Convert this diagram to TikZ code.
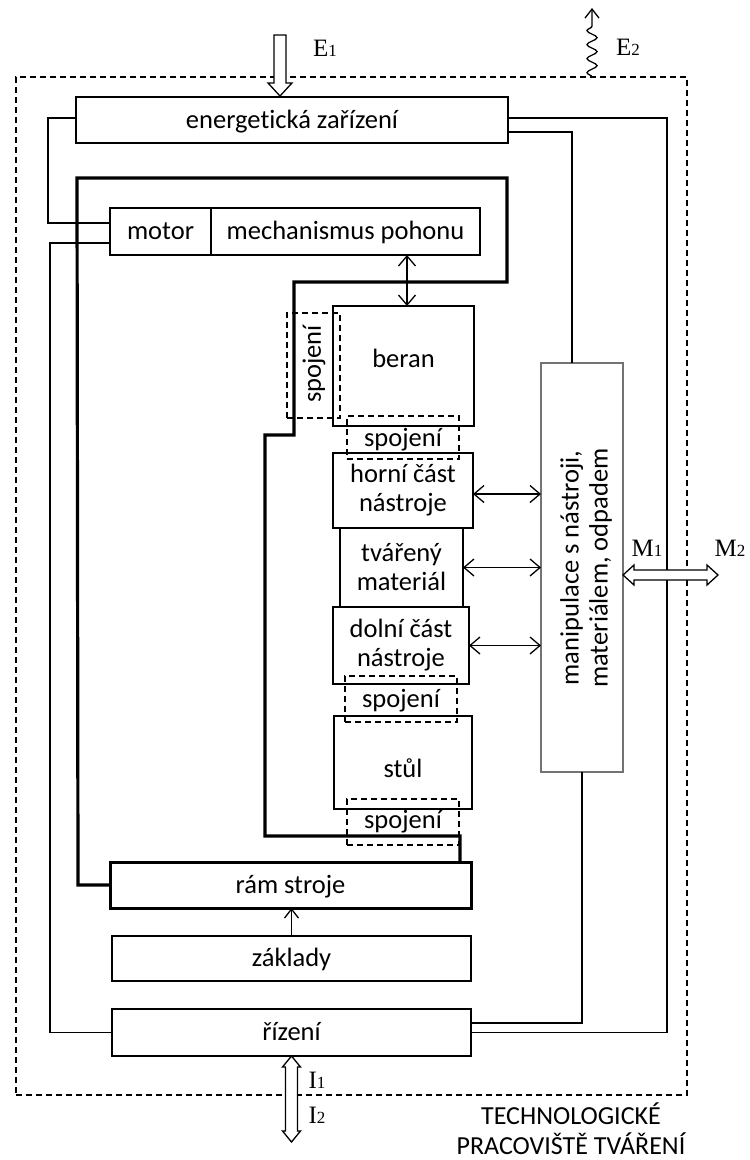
\documentclass[tikz,border=0pt]{standalone}
\usepackage{fontspec}
\setmainfont{Carlito}[Ligatures=NoCommon]
\newfontfamily\tnr{Liberation Serif}
\usetikzlibrary{arrows.meta,decorations.pathmorphing,calc}
\newcommand\mylbl[2]{{\tnr\fontsize{25}{25}\selectfont #1\fontsize{17}{17}\selectfont #2}}
\begin{document}
\begin{tikzpicture}[x=1pt,y=-1pt,
  txt/.style={font=\fontsize{26.5}{29}\selectfont, align=center, inner sep=0pt},
  one/.style={text height=18pt, text depth=2pt},
  box/.style={draw, line width=1.4pt, inner sep=0pt, outer sep=0pt, txt},
  thickbox/.style={box, line width=3pt},
  dbox/.style={draw, dashed, dash pattern=on 6pt off 4pt, line width=1.3pt, inner sep=0pt, outer sep=0pt},
  conn/.style={draw, line width=1.4pt},
  thickframe/.style={draw, line width=3.2pt, line join=miter},
  dbl/.style={draw, line width=1.3pt, {Straight Barb[length=10pt,width=17pt]}-{Straight Barb[length=10pt,width=17pt]}},
  sgl/.style={draw, line width=1.3pt, -{Straight Barb[length=9pt,width=14pt]}},
  hollow/.style={draw, line width=1.3pt, fill=white, line join=miter},
  lbl/.style={inner sep=0pt}
]
\useasboundingbox (0,0) rectangle (750,1160);

% outer dashed border
\node[dbox, line width=1.2pt, minimum width=671pt, minimum height=1018pt] (outer) at (351.5,586) {};

% boxes
\node[box, one, minimum width=432pt, minimum height=46pt] (en) at (292,120) {energetická zařízení};
\node[box, one, minimum width=101pt, minimum height=47pt] (motor) at (160.5,231.5) {motor};
\node[box, one, minimum width=269pt, minimum height=47pt] (mech) at (345.5,231.5) {mechanismus pohonu};
\node[box, minimum width=141pt, minimum height=120pt] (beran) at (403.5,366) {};
\node[txt, one] (berant) at (403.5,359) {beran};
\node[box, minimum width=140pt, minimum height=75pt] (horni) at (403,490.5) {horní část\\nástroje};
\node[box, minimum width=123pt, minimum height=79pt] (tvar) at (401.5,567.5) {tvářený\\materiál};
\node[box, minimum width=136pt, minimum height=77pt] (dolni) at (401,645.5) {dolní část\\nástroje};
\node[box, minimum width=138pt, minimum height=93pt] (stul) at (403,762.5) {};
\node[txt, one] (stult) at (403,769) {stůl};
\node[thickbox, one, minimum width=361pt, minimum height=46pt] (ram) at (290.5,885) {rám stroje};
\node[box, one, minimum width=359pt, minimum height=45pt] (zakl) at (291.5,958.5) {základy};
\node[box, one, minimum width=359pt, minimum height=47pt] (riz) at (291.5,1032.5) {řízení};
\node[box, draw=black!55, minimum width=82pt, minimum height=409pt] (manip) at (582,567.5) {};
\node[txt, rotate=90] (maniptext) at (586,568) {manipulace s nástroji,\\materiálem, odpadem};

% spojeni (dashed)
\node[dbox, minimum width=53pt, minimum height=105pt] (s1) at (313.5,365.5) {};
\node[txt, rotate=90] (s1t) at (314,364) {spojení};
\node[dbox, minimum width=112pt, minimum height=43pt] (s2) at (403,437.5) {};
\node[txt, one] (s2t) at (403,438) {spojení};
\node[dbox, minimum width=112pt, minimum height=46pt] (s3) at (401,699) {};
\node[txt, one] (s3t) at (401,699) {spojení};
\node[dbox, minimum width=112pt, minimum height=46pt] (s4) at (403,822) {};
\node[txt, one] (s4t) at (403,820) {spojení};

% thick machine frame
\coordinate (fe) at (460,836);
\draw[thickframe] (ram.west) -- (78,885) -- (77,178) -- (507,178) -- (507,282) -- (294,282)
  -- (294,435) -- (265,435) -- (265,836) -- (fe) -- (fe |- ram.north);

% connections
\draw[conn] ([yshift=2pt]en.west) -| (48,223) -- ([yshift=8.5pt]motor.west);
\draw[conn] ([yshift=-11.5pt]motor.west) -| (50,1032.5) -- (riz.west);
\draw[conn] ([yshift=2pt]en.east) -| (667,1032.5) -- (riz.east);
\draw[conn] ([yshift=-12pt]en.east) -| ([xshift=-10pt]manip.north);
\draw[conn] (manip.south) |- ([yshift=9.5pt]riz.east);

% arrows
\coordinate (ax) at (407,0);
\draw[dbl] (mech.south -| ax) -- (beran.north -| ax);
\draw[dbl] ([yshift=-3.5pt]horni.east) -- ([yshift=-3.5pt]horni.east -| manip.west);
\draw[dbl] (tvar.east) -- (tvar.east -| manip.west);
\draw[dbl] (dolni.east) -- (dolni.east -| manip.west);
\draw[sgl] (zakl.north) -- (zakl.north |- ram.south);

% E1 hollow arrow
\coordinate (e1) at (280,35);
\draw[hollow] (e1) ++(-6,0) -- ++(12,0) -- ++(0,48) -- ++(6,0) -- ++(-12,13) -- ++(-12,-13) -- ++(6,0) -- cycle;
\node[lbl] (E1) at (325,48) {\mylbl{E}{1}};

% E2 wavy arrow
\coordinate (e2a) at (592,77);
\coordinate (e2m) at (592,24);
\coordinate (e2b) at (592,8);
\draw[line width=1.3pt, -{Straight Barb[length=9pt,width=14pt]}] (e2a) decorate[decoration={snake,amplitude=5pt,segment length=14pt}] {-- (e2m)} -- (e2b);
\node[lbl] (E2) at (628,47) {\mylbl{E}{2}};

% M1/M2 hollow double arrow
\coordinate (m) at ([yshift=-7.5pt]manip.east);
\draw[hollow] (m) -- ++(11,-10) -- ++(0,5) -- ++(73,0) -- ++(0,-5) -- ++(11,10) -- ++(-11,10) -- ++(0,-5) -- ++(-73,0) -- ++(0,5) -- cycle;
\node[lbl] (M1) at (647,548) {\mylbl{M}{1}};
\node[lbl] (M2) at (730,548) {\mylbl{M}{2}};

% I1/I2 hollow double arrow
\draw[hollow] (riz.south) -- ++(9,11) -- ++(-3,0) -- ++(0,64) -- ++(3,0) -- ++(-9,11) -- ++(-9,-11) -- ++(3,0) -- ++(0,-64) -- ++(-3,0) -- cycle;
\node[lbl] (I1) at (317,1080) {\mylbl{I}{1}};
\node[lbl] (I2) at (317,1115) {\mylbl{I}{2}};

% caption
\node[txt, font=\fontsize{26}{30}\selectfont] (cap) at (571,1129) {TECHNOLOGICKÉ\\PRACOVIŠTĚ TVÁŘENÍ};
\end{tikzpicture}
\end{document}
